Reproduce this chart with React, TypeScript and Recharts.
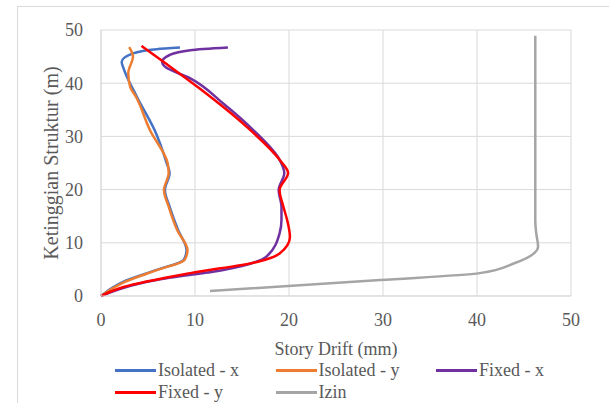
import { LineChart, Line, XAxis, YAxis, CartesianGrid } from "recharts";

// Ketinggian (m) dan story drift (mm) per seri
const isoXH = [0, 2.7, 4.9, 6.8, 8.6, 12.4, 16.8, 19.9, 23.1, 24.9, 31.2, 37.5, 42.8, 44.0, 45.6, 46.4, 46.7];
const isoXD = [0, 2.4, 5.9, 8.8, 9.1, 8.2, 7.3, 6.8, 7.3, 7.0, 5.7, 3.8, 2.4, 2.2, 3.4, 5.9, 8.4];

const isoYH = [0, 2.7, 4.9, 6.8, 8.6, 12.4, 16.8, 19.9, 23.1, 24.9, 31.2, 37.5, 39.3, 41.9, 45.0, 46.8];
const isoYD = [0, 2.6, 6.0, 8.9, 9.2, 8.1, 7.2, 6.7, 7.2, 7.1, 5.2, 3.7, 3.1, 2.9, 3.4, 3.0];

const fixXH = [0, 3.0, 4.9, 7.4, 11.8, 14.3, 16.8, 19.9, 23.1, 25.6, 31.2, 36.2, 40.9, 43.1, 44.0, 45.3, 46.2, 46.7];
const fixXD = [0, 5.9, 13.0, 17.6, 19.0, 19.2, 19.2, 18.9, 19.5, 19.0, 16.2, 13.0, 9.5, 6.8, 6.5, 7.3, 9.5, 13.5];

const fixYH = [0, 1.7, 4.3, 6.4, 8.0, 11.1, 14.3, 16.8, 19.9, 23.1, 25.6, 31.8, 39.0, 43.7, 47.0];
const fixYD = [0, 2.4, 9.5, 16.6, 19.0, 20.1, 19.8, 19.4, 19.0, 19.9, 19.0, 15.5, 10.5, 6.9, 4.3];

const izinH = [0.94, 3.0, 4.3, 6.1, 9.3, 11.8, 14.3, 30, 48.9];
const izinD = [11.6, 29.7, 40.3, 43.9, 46.5, 46.3, 46.2, 46.2, 46.2];

const xTicks = [0, 10, 20, 30, 40, 50];
const yTicks = [0, 10, 20, 30, 40, 50];

const toPoints = (h: number[], d: number[]) => h.map((v, i) => ({ h: v, d: d[i] }));

const series = [
  { name: "Isolated - x", color: "#4472C4", data: toPoints(isoXH, isoXD) },
  { name: "Isolated - y", color: "#ED7D31", data: toPoints(isoYH, isoYD) },
  { name: "Fixed - x", color: "#7030A0", data: toPoints(fixXH, fixXD) },
  { name: "Fixed - y", color: "#FF0000", data: toPoints(fixYH, fixYD) },
  { name: "Izin", color: "#A5A5A5", data: toPoints(izinH, izinD) },
];

const FONT = "Liberation Serif, DejaVu Serif, serif";
const TXT = "#595959";

export default function App() {
  return (
    <div style={{ position: "absolute", left: 0, top: 0, width: 609, height: 403, overflow: "hidden", background: "#fff" }}>
      {/* bingkai luar */}
      <div style={{ position: "absolute", left: 17, top: 6, width: 700, height: 500, border: "1px solid #d9d9d9" }} />

      <div style={{ position: "absolute", left: 0, top: 0 }}>
        <LineChart
          width={609}
          height={403}
          layout="vertical"
          margin={{ top: 30, right: 38, bottom: 0, left: 0 }}
          style={{ fontFamily: FONT }}
        >
          <CartesianGrid stroke="#d9d9d9" strokeWidth={1} />
          <XAxis
            type="number"
            domain={[0, 50]}
            ticks={xTicks}
            height={107}
            axisLine={{ stroke: "#d9d9d9" }}
            tickLine={false}
            tickSize={0}
            tickMargin={17}
            tick={{ fill: TXT, fontSize: 18, fontFamily: FONT }}
            label={{ value: "Story Drift (mm)", position: "insideTop", offset: 46, fill: TXT, fontSize: 18, fontFamily: FONT }}
          />
          <YAxis
            type="number"
            dataKey="h"
            domain={[0, 50]}
            ticks={yTicks}
            reversed
            width={101}
            axisLine={{ stroke: "#d9d9d9" }}
            tickLine={false}
            tickSize={0}
            tickMargin={18}
            tick={{ fill: TXT, fontSize: 18, fontFamily: FONT }}
            label={{
              value: "Ketinggian Struktur (m)",
              angle: -90,
              position: "insideLeft",
              offset: 51,
              fill: TXT,
              fontSize: 20,
              fontFamily: FONT,
              style: { textAnchor: "middle" },
            }}
          />
          {series.map((s) => (
            <Line
              key={s.name}
              name={s.name}
              data={s.data}
              dataKey="d"
              type="monotone"
              stroke={s.color}
              strokeWidth={2.5}
              dot={false}
              isAnimationActive={false}
            />
          ))}
        </LineChart>
      </div>

      {/* legenda */}
      {series.map((s, i) => (
        <div
          key={s.name}
          style={{
            position: "absolute",
            left: 115 + (i % 3) * 160.5,
            top: 361 + Math.floor(i / 3) * 22,
            height: 18,
            lineHeight: "18px",
            display: "flex",
            alignItems: "center",
            fontFamily: FONT,
            fontSize: 18,
            color: TXT,
            whiteSpace: "nowrap",
          }}
        >
          <div style={{ width: 41, height: 3, background: s.color, marginRight: 2 }} />
          <span>{s.name}</span>
        </div>
      ))}
    </div>
  );
}
